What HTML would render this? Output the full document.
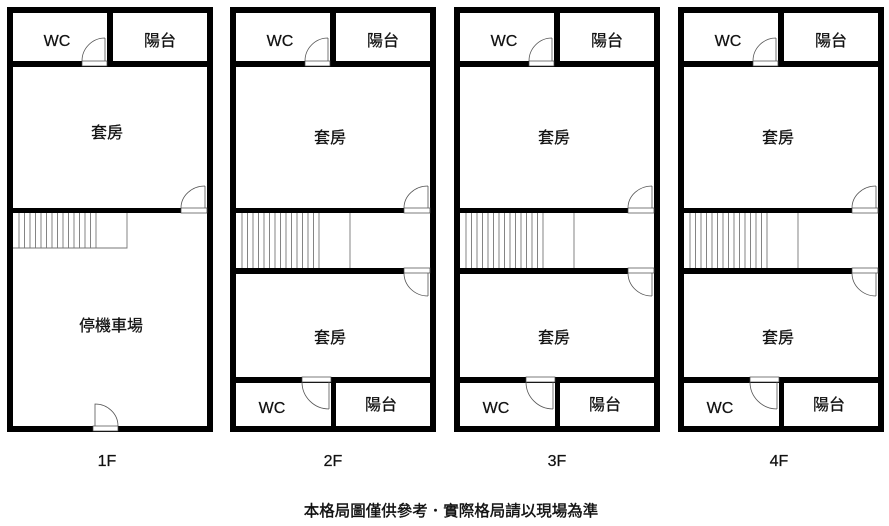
<!DOCTYPE html>
<html><head><meta charset="utf-8"><style>
html,body{margin:0;padding:0;background:#fff;width:889px;height:526px;overflow:hidden}
text{font-family:"Liberation Sans","Noto Sans CJK TC",sans-serif;fill:#111;stroke:#111;stroke-width:0.25}
</style></head><body>
<svg width="889" height="526" viewBox="0 0 889 526" xmlns="http://www.w3.org/2000/svg">
<defs>
<g id="top">
  <rect x="7" y="7" width="206" height="425" fill="#fff"/>
  <rect x="7" y="7" width="206" height="6" fill="#000"/>
  <rect x="7" y="426" width="206" height="6" fill="#000"/>
  <rect x="7" y="7" width="6" height="425" fill="#000"/>
  <rect x="207" y="7" width="6" height="425" fill="#000"/>
  <rect x="13" y="61" width="194" height="6" fill="#000"/>
  <rect x="107" y="13" width="6" height="54" fill="#000"/>
  <rect x="82" y="61" width="25" height="5" fill="#fff" stroke="#444" stroke-width="0.7"/>
  <path d="M105 61 V38 M82 61 A23 23 0 0 1 105 38" fill="none" stroke="#555" stroke-width="0.8"/>
  <text x="57" y="46" font-size="16" text-anchor="middle">WC</text>
  <text x="160" y="46" font-size="16" text-anchor="middle">陽台</text>
  <rect x="13" y="208" width="168" height="5" fill="#000"/>
  <rect x="181" y="208" width="26" height="5" fill="#fff" stroke="#444" stroke-width="0.7"/>
  <path d="M205 208 V186 M181 208 A24 22 0 0 1 205 186" fill="none" stroke="#555" stroke-width="0.8"/>
</g>
<g id="stairs">
  <path d="M13 248 H127 V213 M19 213V248 M24.5 213V248 M30 213V248 M35.5 213V248 M41 213V248 M46.5 213V248 M52 213V248 M57.5 213V248 M63 213V248 M68.5 213V248 M74 213V248 M79.5 213V248 M85 213V248 M90.5 213V248 M96 213V248" fill="none" stroke="#777" stroke-width="0.9"/>
</g>
<g id="upper">
  <use href="#top"/>
  <path d="M19 213V268 M24.5 213V268 M30 213V268 M35.5 213V268 M41 213V268 M46.5 213V268 M52 213V268 M57.5 213V268 M63 213V268 M68.5 213V268 M74 213V268 M79.5 213V268 M85 213V268 M90.5 213V268 M96 213V268 M127 213V268" fill="none" stroke="#777" stroke-width="0.9"/>
  <rect x="13" y="268" width="168" height="6" fill="#000"/>
  <rect x="181" y="268" width="26" height="5" fill="#fff" stroke="#444" stroke-width="0.7"/>
  <path d="M205 273 V296 M181 273 A24 23 0 0 0 205 296" fill="none" stroke="#555" stroke-width="0.8"/>
  <text x="107" y="143" font-size="16" text-anchor="middle">套房</text>
  <text x="107" y="343" font-size="16" text-anchor="middle">套房</text>
  <rect x="13" y="377" width="194" height="6" fill="#000"/>
  <rect x="108" y="377" width="5" height="50" fill="#000"/>
  <rect x="79" y="377" width="29" height="5" fill="#fff" stroke="#444" stroke-width="0.7"/>
  <path d="M106 382 V409 M79 382 A27 27 0 0 0 106 409" fill="none" stroke="#555" stroke-width="0.8"/>
  <text x="49" y="413" font-size="16" text-anchor="middle">WC</text>
  <text x="158" y="410" font-size="16" text-anchor="middle">陽台</text>
</g>
</defs>

<g>
  <use href="#top"/>
  <use href="#stairs"/>
  <text x="107" y="138" font-size="16" text-anchor="middle">套房</text>
  <text x="111" y="331" font-size="16" text-anchor="middle">停機車場</text>
  <rect x="93" y="426" width="25" height="5" fill="#fff" stroke="#444" stroke-width="0.7"/>
  <path d="M95 426 V404 A23 22 0 0 1 118 426" fill="none" stroke="#555" stroke-width="0.8"/>
  <text x="107" y="466" font-size="16" text-anchor="middle">1F</text>
</g>
<g transform="translate(223,0)"><use href="#upper"/><text x="110" y="466" font-size="16" text-anchor="middle">2F</text></g>
<g transform="translate(447,0)"><use href="#upper"/><text x="110" y="466" font-size="16" text-anchor="middle">3F</text></g>
<g transform="translate(671,0)"><use href="#upper"/><text x="108" y="466" font-size="16" text-anchor="middle">4F</text></g>

<text x="451" y="516" font-size="15.5" text-anchor="middle" style="stroke-width:0.4">本格局圖僅供參考．實際格局請以現場為準</text>
</svg>
</body></html>
